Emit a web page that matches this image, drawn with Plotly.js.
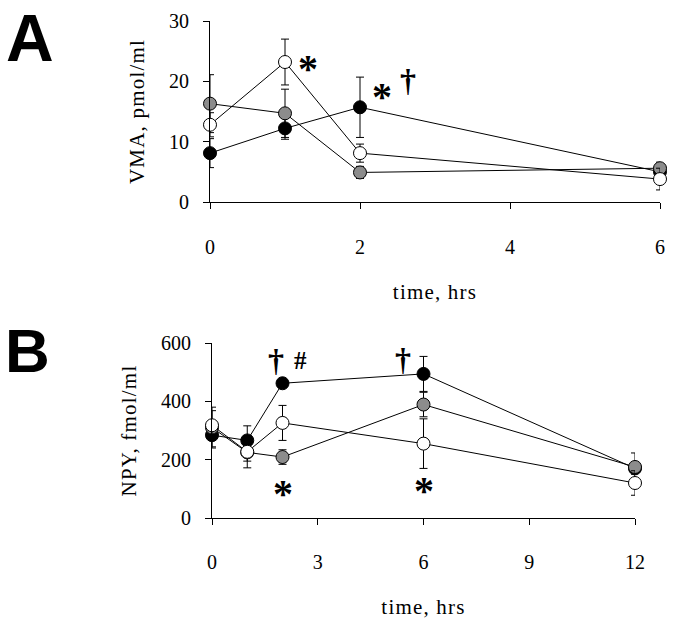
<!DOCTYPE html>
<html>
<head>
<meta charset="utf-8">
<script src="https://cdn.plot.ly/plotly-3.0.1.min.js"></script>
<style>
  html, body { margin: 0; padding: 0; background: #fff; }
  #chart { width: 676px; height: 628px; }
  .xtitle, .x2title, .ytitle, .y2title { letter-spacing: 1.2px; }
</style>
</head>
<body>
<div id="chart"></div>
<script>
// Panel A: VMA (pmol/ml)
const timeA = [0, 1, 2, 6];
const vmaBlack = [8.1, 12.2, 15.7, 5.0];
const vmaBlackErr = [2.4, 1.8, 5.0, 0.8];
const vmaGray = [16.3, 14.7, 4.9, 5.6];
const vmaGrayErr = [4.8, 4.0, 1.0, 1.0];
const vmaWhite = [12.8, 23.2, 8.1, 3.8];
const vmaWhiteErr = [2.0, 3.8, 1.5, 1.8];

// Panel B: NPY (fmol/ml)
const timeB = [0, 1, 2, 6, 12];
const npyBlack = [284, 266, 462, 494, 170];
const npyBlackErr = [40, 50, 12, 60, 20];
const npyGray = [310, 225, 209, 389, 175];
const npyGrayErr = [70, 30, 25, 42, 48];
const npyWhite = [318, 227, 326, 255, 120];
const npyWhiteErr = [50, 55, 60, 85, 42];

const W = 676, H = 628;
const serif = 'Liberation Serif, Times New Roman, serif';

function series(x, y, err, fill, xa, ya) {
    return {
        x: x, y: y,
        xaxis: xa, yaxis: ya,
        type: 'scatter',
        mode: 'lines+markers',
        line: { color: '#000', width: 1 },
        marker: { size: 13, color: fill, line: { color: '#000', width: 1 } },
        error_y: { type: 'data', array: err, visible: true, color: '#000', thickness: 1, width: 4 },
        cliponaxis: false,
        showlegend: false,
        hoverinfo: 'x+y'
    };
}

const traces = [
    series(timeA, vmaBlack, vmaBlackErr, '#000000', 'x', 'y'),
    series(timeA, vmaGray, vmaGrayErr, '#8c8c8c', 'x', 'y'),
    series(timeA, vmaWhite, vmaWhiteErr, '#ffffff', 'x', 'y'),
    series(timeB, npyBlack, npyBlackErr, '#000000', 'x2', 'y2'),
    series(timeB, npyGray, npyGrayErr, '#8c8c8c', 'x2', 'y2'),
    series(timeB, npyWhite, npyWhiteErr, '#ffffff', 'x2', 'y2')
];

const axisBase = {
    showgrid: false,
    zeroline: false,
    showline: true,
    linecolor: '#000',
    linewidth: 1,
    ticks: 'outside',
    ticklen: 6,
    tickcolor: '#000',
    tickwidth: 1,
    tickfont: { family: serif, size: 20, color: '#000' },
    fixedrange: true
};

const titleFont = { family: serif, size: 21, color: '#000' };

// pixel box -> paper domain
const dx = (a, b) => [a / W, b / W];
const dy = (top, bottom) => [1 - bottom / H, 1 - top / H];

function mark(text, xa, ya, x, y, xs, ys, size) {
    return {
        text: '<b>' + text + '</b>',
        xref: xa, yref: ya, x: x, y: y,
        xshift: xs, yshift: ys,
        showarrow: false,
        xanchor: 'center', yanchor: 'middle',
        font: { family: serif, size: size, color: '#000' }
    };
}

const layout = {
    width: W, height: H,
    margin: { l: 0, r: 0, t: 0, b: 0 },
    paper_bgcolor: '#fff',
    plot_bgcolor: 'rgba(0,0,0,0)',
    xaxis: Object.assign({}, axisBase, {
        domain: dx(210, 660), anchor: 'y',
        range: [0, 6], tickvals: [0, 2, 4, 6],
        ticklabelstandoff: 21,
        title: { text: 'time, hrs', font: titleFont, standoff: 27 }
    }),
    yaxis: Object.assign({}, axisBase, {
        domain: dy(21, 202), anchor: 'x',
        range: [0, 30], tickvals: [0, 10, 20, 30],
        ticklabelstandoff: 10,
        title: { text: 'VMA, pmol/ml', font: titleFont, standoff: 18 }
    }),
    xaxis2: Object.assign({}, axisBase, {
        domain: dx(212, 635), anchor: 'y2',
        range: [0, 12], tickvals: [0, 3, 6, 9, 12],
        ticklabelstandoff: 20,
        title: { text: 'time, hrs', font: titleFont, standoff: 27 }
    }),
    yaxis2: Object.assign({}, axisBase, {
        domain: dy(343, 518), anchor: 'x2',
        range: [0, 600], tickvals: [0, 200, 400, 600],
        ticklabelstandoff: 10,
        title: { text: 'NPY, fmol/ml', font: titleFont, standoff: 18 }
    }),
    annotations: [
        { text: '<b>A</b>', xref: 'paper', yref: 'paper', x: 30 / W, y: 1 - 38 / H,
          showarrow: false, xanchor: 'center', yanchor: 'middle',
          font: { family: 'Liberation Sans, Arial, sans-serif', size: 66, color: '#000' } },
        { text: '<b>B</b>', xref: 'paper', yref: 'paper', x: 27 / W, y: 1 - 350 / H,
          showarrow: false, xanchor: 'center', yanchor: 'middle',
          font: { family: 'Liberation Sans, Arial, sans-serif', size: 62, color: '#000' } },
        mark('*', 'x', 'y', timeA[1], vmaWhite[1], 23, -6, 40),
        mark('*', 'x', 'y', timeA[2], vmaBlack[2], 22, 11, 40),
        mark('†', 'x', 'y', timeA[2], vmaBlack[2], 48, 27, 32),
        mark('†', 'x2', 'y2', timeB[2], npyBlack[2], -7, 23, 32),
        mark('#', 'x2', 'y2', timeB[2], npyBlack[2], 18, 23, 25),
        mark('*', 'x2', 'y2', timeB[2], npyGray[2], 0, -36, 40),
        mark('†', 'x2', 'y2', timeB[3], npyBlack[3], -21, 15, 32),
        mark('*', 'x2', 'y2', timeB[3], npyWhite[3], 0, -47, 40)
    ]
};

Plotly.newPlot('chart', traces, layout, { displayModeBar: false, staticPlot: true });
</script>
</body>
</html>
